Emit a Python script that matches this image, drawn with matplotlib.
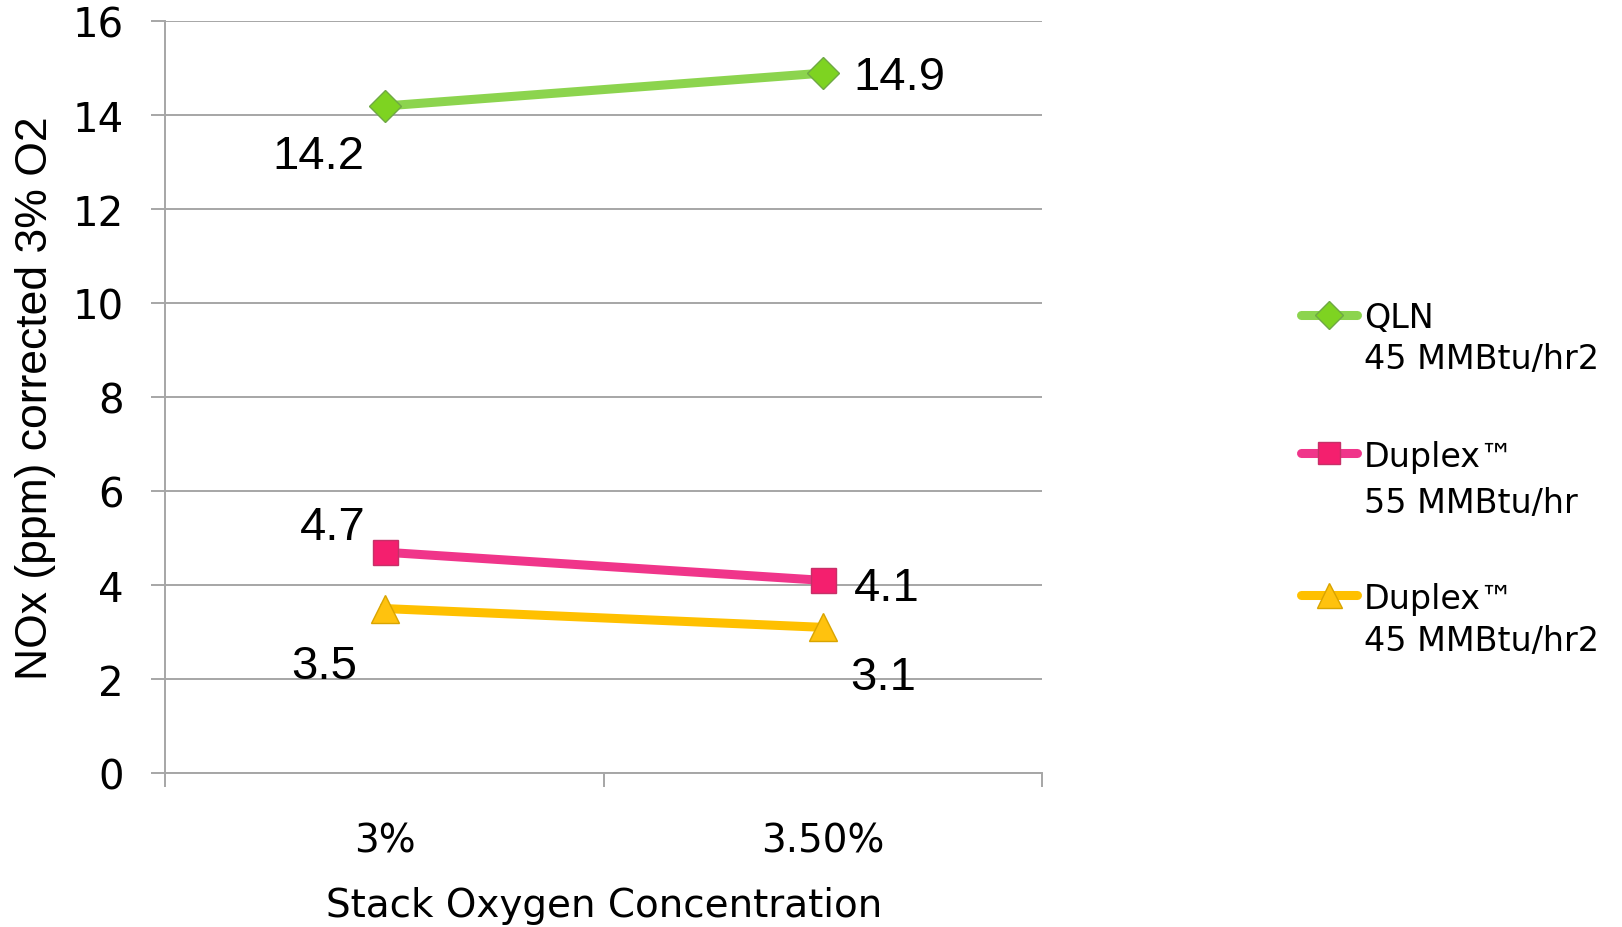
import matplotlib
matplotlib.use("Agg")
import matplotlib.pyplot as plt
from matplotlib.lines import Line2D

categories = ["3%", "3.50%"]
qln_45 = [14.2, 14.9]
duplex_55 = [4.7, 4.1]
duplex_45 = [3.5, 3.1]

series_names = [("QLN", "45 MMBtu/hr2"), ("Duplex\u2122", "55 MMBtu/hr"), ("Duplex\u2122", "45 MMBtu/hr2")]
series_values = [qln_45, duplex_55, duplex_45]
line_colors = ["#8CD44E", "#F0358A", "#FFC000"]
face_colors = ["#7ED321", "#F41F6E", "#FFC20E"]
edge_colors = ["#6FA845", "#C63068", "#D9A400"]
markers = ["D", "s", "^"]
msizes = [16, 18, 20]
# label offsets in pixels (dx, dy) for each point
label_offsets = [[(-66, -50), (77, -4)],
                 [(-52, 25), (64, -8)],
                 [(-60, -57), (60, -50)]]

grid_col = "#A6A6A6"

fig = plt.figure(figsize=(16.22, 9.28), dpi=100)
ax = fig.add_axes([0.1020, 0.166, 0.5404, 0.8098])

x = list(range(len(categories)))
for vals, lc, fc, ec, m, ms, offs in zip(series_values, line_colors, face_colors,
                                         edge_colors, markers, msizes, label_offsets):
    ax.plot(x, vals, color=lc, lw=6.5, marker=m, ms=ms, mfc=fc, mec=ec, mew=1, zorder=3)
    for xi, v, (dx, dy) in zip(x, vals, offs):
        ax.annotate(f"{v}", (xi, v), xytext=(dx, dy), textcoords="offset pixels",
                    ha="center", va="center", fontsize=34,
                    family=["Liberation Sans", "DejaVu Sans"], color="black")

ax.set_xlim(-0.5, len(categories) - 0.5)
ax.set_ylim(0, 16)
ax.set_yticks(range(0, 17, 2))
ax.yaxis.grid(True, color=grid_col, lw=1.4)
ax.set_axisbelow(True)

ax.set_xticks([-0.5, 0.5, 1.5])
ax.set_xticklabels([])
ax.set_xticks(x, minor=True)
ax.set_xticklabels(categories, minor=True)
ax.tick_params(axis="x", which="major", direction="out", length=10, width=1.4, color=grid_col)
ax.tick_params(axis="x", which="minor", length=0, pad=35, labelsize=28)
ax.tick_params(axis="y", direction="out", length=10, width=1.4, color=grid_col, pad=20, labelsize=29)

for s in ["top", "right"]:
    ax.spines[s].set_visible(False)
for s in ["left", "bottom"]:
    ax.spines[s].set_color(grid_col)
    ax.spines[s].set_linewidth(1.4)

ax.set_xlabel("Stack Oxygen Concentration", fontsize=28)
ax.xaxis.set_label_coords(0.5, -0.176)
ax.xaxis.label.set_va("center")
ax.set_ylabel("NOx (ppm) corrected 3% O2", fontsize=32, family=["Liberation Sans", "DejaVu Sans"])
ax.yaxis.set_label_coords(-0.1478, 0.5)
ax.yaxis.label.set_va("center")

# legend drawn by hand so the key lines up with the first text row
W, H = 1622, 928
handle_y = [316, 454, 596]
text_y = [(319, 360), (458, 503), (600, 642)]
for (l1, l2), lc, fc, ec, m, ms, hy, (t1, t2) in zip(series_names, line_colors, face_colors,
                                                      edge_colors, markers, msizes, handle_y, text_y):
    fig.add_artist(Line2D([1301 / W, 1329 / W, 1357 / W], [1 - hy / H] * 3, transform=fig.transFigure,
                          color=lc, lw=6.5, solid_capstyle="round", marker=m, markevery=[1],
                          ms=ms * 0.9, mfc=fc, mec=ec, mew=1))
    fig.text(1364 / W, 1 - t1 / H, l1, fontsize=24, ha="left", va="center")
    fig.text(1364 / W, 1 - t2 / H, l2, fontsize=24, ha="left", va="center")

fig.savefig("out.png", dpi=100)
